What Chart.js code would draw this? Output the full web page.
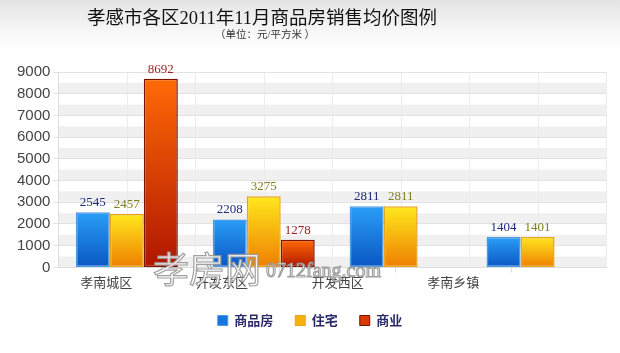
<!DOCTYPE html>
<html><head><meta charset="utf-8">
<script src="https://cdn.jsdelivr.net/npm/chart.js@4.4.0/dist/chart.umd.min.js"></script>
<style>
html,body{margin:0;padding:0;}
body{width:620px;height:353px;background:linear-gradient(#e4e4e4 0px,#f6f6f6 30px,#ffffff 52px,#ffffff 353px);}
#wrap{position:relative;width:620px;height:353px;}
</style></head>
<body><div id="wrap"><canvas id="c"></canvas></div>
<script>
const chartTitle = '孝感市各区2011年11月商品房销售均价图例';
const chartSubtitle = '（单位：元/平方米 ）';
const categories = ['孝南城区','开发东区','开发西区','孝南乡镇'];
const seriesNames = ['商品房','住宅','商业'];
const commodityHousing = [2545, 2208, 2811, 1404];
const residential = [2457, 3275, 2811, 1401];
const commercial = [8692, 1278, null, null];
const yMin = 0, yMax = 9000, yStep = 1000;
const watermarkMain = '孝房网';
const watermarkSite = '0712fang.com';

const palettes = [
  {top:'#2a9ef7', bottom:'#0a56c2', border:'#4a9ae6', label:'#1f2a7c', legend:'#1676dc'},
  {top:'#ffe81e', bottom:'#ee7e00', border:'#e8a41c', label:'#7f7f1f', legend:'#f7b10c'},
  {top:'#ff6a06', bottom:'#b01600', border:'#7c1200', label:'#9a1c1c', legend:'#d83a06'}
];
const seriesData = [commodityHousing, residential, commercial];

function barGradient(ctx, i){
  const chart = ctx.chart;
  const p = palettes[i];
  if (!chart.chartArea || !chart.scales.y || ctx.raw == null) return p.legend;
  const y = chart.scales.y;
  const top = y.getPixelForValue(ctx.raw), bot = y.getPixelForValue(0);
  if (!isFinite(top) || !isFinite(bot) || top === bot) return p.legend;
  const g = chart.ctx.createLinearGradient(0, top, 0, bot);
  g.addColorStop(0, p.top);
  g.addColorStop(1, p.bottom);
  return g;
}

const backdrop = {
  id:'backdrop',
  beforeDraw(chart){
    const {ctx, chartArea:a, scales:{y, x}} = chart;
    ctx.save();
    ctx.fillStyle = '#f0f0f0';
    for (let v = yMin; v < yMax; v += yStep){
      const p1 = y.getPixelForValue(v), p2 = y.getPixelForValue(v + yStep/2);
      ctx.fillRect(a.left, p2, a.right - a.left, p1 - p2);
    }
    ctx.strokeStyle = '#ececec';
    ctx.lineWidth = 1;
    for (let i = 0; i < categories.length; i++){
      const px = Math.round(x.getPixelForValue(i)) + 0.5;
      ctx.beginPath(); ctx.moveTo(px, a.top); ctx.lineTo(px, a.bottom); ctx.stroke();
    }
    ctx.restore();
  }
};

const texts = {
  id:'texts',
  afterDatasetsDraw(chart){
    const ctx = chart.ctx;
    ctx.save();
    ctx.font = '13px "Liberation Serif", serif';
    ctx.textAlign = 'center';
    ctx.textBaseline = 'bottom';
    chart.data.datasets.forEach((ds, di) => {
      const meta = chart.getDatasetMeta(di);
      meta.data.forEach((el, i) => {
        const v = ds.data[i];
        if (v == null) return;
        ctx.fillStyle = palettes[di].label;
        ctx.fillText(String(v), el.x, el.y - 3);
      });
    });
    ctx.restore();
  },
  afterDraw(chart){
    const ctx = chart.ctx;
    ctx.save();
    ctx.textAlign = 'center';
    ctx.textBaseline = 'middle';
    ctx.fillStyle = '#111';
    ctx.font = '18.5px "Liberation Serif", "Noto Sans CJK SC", serif';
    ctx.fillText(chartTitle, 262, 19);
    ctx.fillStyle = '#333';
    ctx.font = '10.5px "Liberation Serif", "Noto Sans CJK SC", serif';
    ctx.fillText(chartSubtitle, 265, 35);
    // watermark
    ctx.textAlign = 'left';
    ctx.textBaseline = 'alphabetic';
    ctx.lineWidth = 1.2;
    ctx.strokeStyle = 'rgba(150,150,150,0.9)';
    ctx.fillStyle = 'rgba(255,255,255,0.85)';
    ctx.font = '36px "Noto Sans CJK SC", sans-serif';
    ctx.fillText(watermarkMain, 153, 283);
    ctx.strokeText(watermarkMain, 153, 283);
    ctx.font = '20px "Liberation Serif", serif';
    ctx.fillText(watermarkSite, 266, 277);
    ctx.strokeText(watermarkSite, 266, 277);
    ctx.restore();
  }
};

new Chart(document.getElementById('c'), {
  type:'bar',
  data:{
    labels: categories,
    datasets: seriesNames.map((name, i) => ({
      label: name,
      data: seriesData[i],
      xAxisID:'x',
      backgroundColor: (ctx) => barGradient(ctx, i),
      borderColor: palettes[i].border,
      borderWidth: 1.5,
      borderSkipped: false,
      categoryPercentage: 0.745,
      barPercentage: 1.0
    }))
  },
  options:{
    responsive:true,
    maintainAspectRatio:false,
    animation:false,
    layout:{padding:{top:72, right:14, left:14, bottom:16}},
    plugins:{
      tooltip:{enabled:false},
      legend:{
        position:'bottom',
        labels:{
          boxWidth:10, boxHeight:10, padding:22,
          color:'#2b2b6b',
          font:{family:'"Noto Sans CJK SC", sans-serif', size:13, weight:'bold'},
          generateLabels(chart){
            return seriesNames.map((n, i) => ({
              text:n, fillStyle:palettes[i].legend, strokeStyle:palettes[i].border,
              lineWidth:1, datasetIndex:i, hidden:false, fontColor:'#2b2b6b'
            }));
          }
        }
      }
    },
    scales:{
      y:{
        min:yMin, max:yMax,
        ticks:{stepSize:yStep, color:'#444', padding:3,
          font:{family:'"Liberation Sans", sans-serif', size:15},
          callback:(v) => String(v)},
        grid:{color:'#e2e2e2', tickLength:5},
        border:{color:'#dddddd'}
      },
      x:{
        type:'category',
        offset:true,
        ticks:{display:false},
        grid:{color:'#ececec', offset:true, drawTicks:false},
        border:{color:'#dddddd'}
      },
      xl:{
        type:'linear',
        position:'bottom',
        offset:false,
        min:0.585, max:5.32,
        afterBuildTicks(s){ s.ticks = [1,1.5,2,2.5,3,3.5,4,4.5].map(v => ({value:v})); },
        ticks:{
          autoSkip:false, maxRotation:0, padding:2,
          color:'#444',
          font:{family:'"Noto Sans CJK SC", sans-serif', size:13},
          callback:(v) => Number.isInteger(v) ? categories[v-1] : ''
        },
        grid:{drawOnChartArea:false, offset:false, tickLength:5,
          color:(c) => (c.tick && Number.isInteger(c.tick.value)) ? 'rgba(0,0,0,0)' : '#dddddd'},
        border:{display:false}
      }
    }
  },
  plugins:[backdrop, texts]
});
</script>
</body></html>
